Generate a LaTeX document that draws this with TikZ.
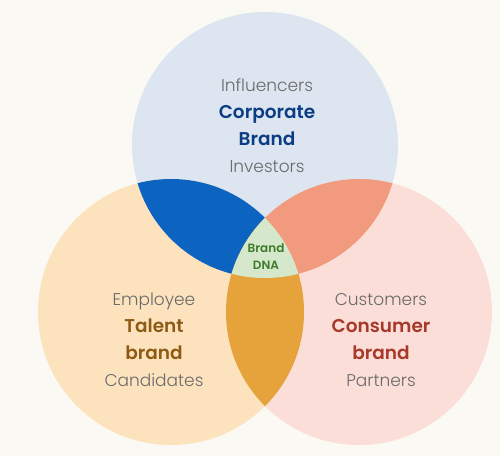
\documentclass[tikz,border=0pt]{standalone}
\usepackage{fontspec}
\setmainfont{Poppins}[UprightFont=* Light, BoldFont=* SemiBold]
\definecolor{bgc}{HTML}{FBF9F4}
\definecolor{topc}{HTML}{DCE5F0}
\definecolor{leftc}{HTML}{FCE3BE}
\definecolor{rightc}{HTML}{FBDED8}
\definecolor{bluei}{HTML}{0D63C0}
\definecolor{salmoni}{HTML}{F19A7E}
\definecolor{orangei}{HTML}{E6A33C}
\definecolor{greeni}{HTML}{D5E8CB}
\definecolor{grayt}{HTML}{6A6A6A}
\definecolor{bluet}{HTML}{0B3D84}
\definecolor{brownt}{HTML}{8E5A14}
\definecolor{redt}{HTML}{A8392A}
\definecolor{greent}{HTML}{3F7A2A}
\newcommand{\bigb}[2]{{\fontsize{18.5}{27}\selectfont\bfseries\color{#1}#2}}
\tikzset{
  lbl/.style={align=center, font=\fontsize{17}{27}\selectfont, text=grayt, inner sep=0pt},
  dna/.style={align=center, font=\fontsize{12}{17}\selectfont\bfseries, text=greent, inner sep=0pt},
}
\begin{document}
\begin{tikzpicture}[x=1pt,y=-1pt]
\fill[bgc] (0,0) rectangle (500,456);
\coordinate (T) at (265,145);
\coordinate (L) at (171,312);
\coordinate (R) at (359,312);
\fill[topc] (T) circle[radius=133pt];
\fill[leftc] (L) circle[radius=133pt];
\fill[rightc] (R) circle[radius=133pt];
\begin{scope}\clip (T) circle[radius=133pt]; \fill[bluei] (L) circle[radius=133pt];\end{scope}
\begin{scope}\clip (T) circle[radius=133pt]; \fill[salmoni] (R) circle[radius=133pt];\end{scope}
\begin{scope}\clip (L) circle[radius=133pt]; \fill[orangei] (R) circle[radius=133pt];\end{scope}
\begin{scope}\clip (T) circle[radius=133pt]; \clip (L) circle[radius=133pt]; \fill[greeni] (R) circle[radius=133pt];\end{scope}
\node[lbl] (top) at (267,126) {Influencers\\\bigb{bluet}{Corporate}\\\bigb{bluet}{Brand}\\Investors};
\node[lbl] (left) at (154,340) {Employee\\\bigb{brownt}{Talent}\\\bigb{brownt}{brand}\\Candidates};
\node[lbl] (right) at (381,340) {Customers\\\bigb{redt}{Consumer}\\\bigb{redt}{brand}\\Partners};
\node[dna] (center) at (266,257) {Brand\\DNA};
\end{tikzpicture}
\end{document}
